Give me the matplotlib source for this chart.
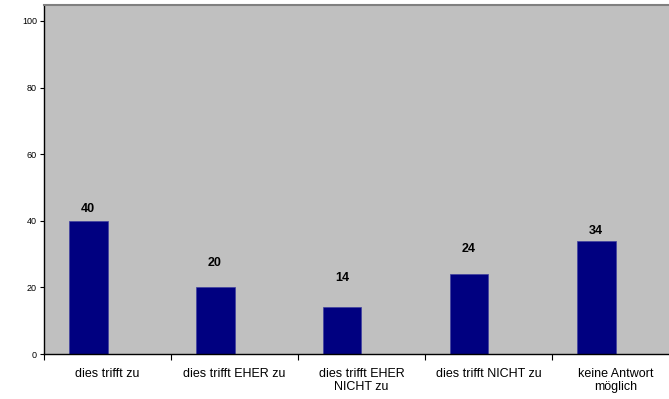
import matplotlib
matplotlib.use("Agg")
import matplotlib.pyplot as plt
import numpy as np

plt.rcParams['font.family'] = ['Liberation Sans', 'DejaVu Sans']

categories = ["dies trifft zu", "dies trifft EHER zu", "dies trifft EHER\nNICHT zu",
              "dies trifft NICHT zu", "keine Antwort\nmöglich"]
values = [40, 20, 14, 24, 34]
yticks = [0, 20, 40, 60, 80, 100]
label_offsets_pt = [4, 13, 17, 14, 3]

W, H = 669, 399
fig = plt.figure(figsize=(W/100, H/100), dpi=100)
left, right, top, bottom = 44, 679, 5, 354
ax = fig.add_axes([left/W, (H-bottom)/H, (right-left)/W, (bottom-top)/H])
ax.set_facecolor('#C0C0C0')

x = np.arange(len(categories))
bw = 0.307
bars = ax.bar(x - bw/2, values, width=bw, color='#000080', edgecolor='#4040a0', linewidth=0.5)
for xi, v, off in zip(x, values, label_offsets_pt):
    ax.annotate(str(v), (xi - bw/2, v), xytext=(0, off), textcoords='offset points',
                ha='center', va='bottom', fontsize=9, fontweight='bold')

ax.set_xlim(-0.5, len(categories) - 0.5)
ax.set_ylim(0, 104.8)
ax.set_yticks(yticks)
ax.set_yticklabels([str(t) for t in yticks], fontsize=6.5)
ax.tick_params(axis='y', length=3, width=0.8, pad=2)

ax.set_xticks(x)
ax.set_xticklabels(categories, fontsize=9, linespacing=1.15)
ax.tick_params(axis='x', which='major', length=0, pad=10)
ax.set_xticks(np.arange(-0.5, len(categories)), minor=True)
ax.tick_params(axis='x', which='minor', length=4, width=0.8)

ax.spines['left'].set_linewidth(1.0)
ax.spines['bottom'].set_linewidth(1.0)
ax.spines['right'].set_visible(False)
ax.spines['top'].set_color('#808080')
ax.spines['top'].set_linewidth(1.5)

fig.savefig("out.png", dpi=100)
